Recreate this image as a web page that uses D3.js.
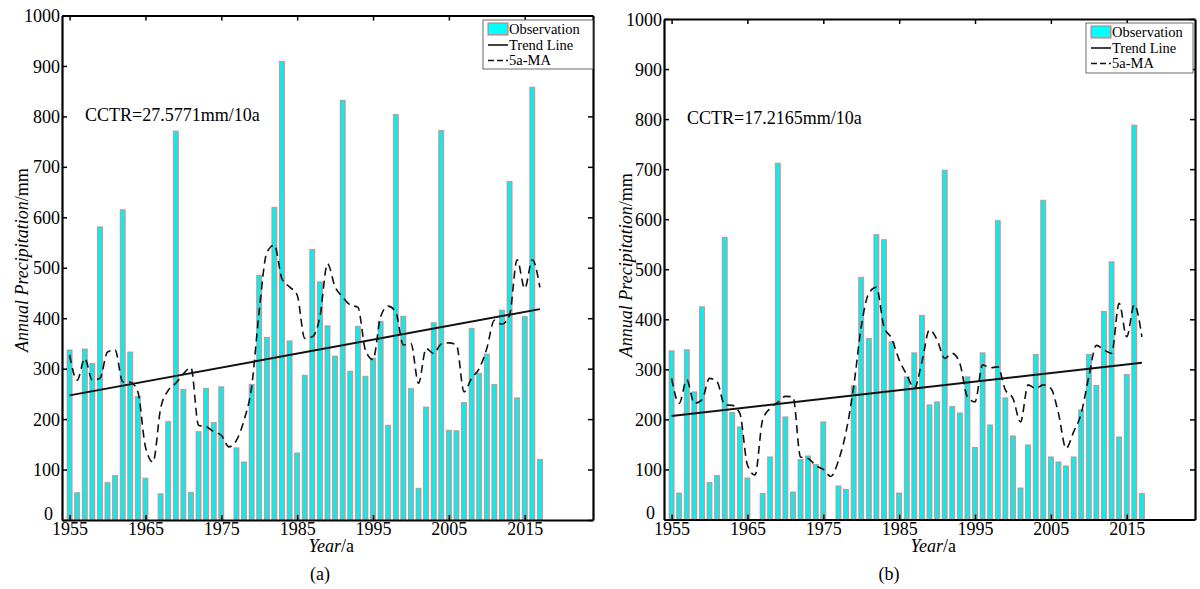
<!DOCTYPE html>
<html>
<head>
<meta charset="utf-8">
<script src="https://cdn.jsdelivr.net/npm/d3@7"></script>
<style>
  body { margin: 0; background: #fff; }
  svg { display: block; }
  svg text { font-family: 'Liberation Serif', 'DejaVu Serif', serif; }
</style>
</head>
<body>
<svg id="chart" width="1200" height="589"></svg>
<script>
const years = d3.range(1955, 2018);
const xTicks = [1955, 1965, 1975, 1985, 1995, 2005, 2015];
const yTicks = [0, 100, 200, 300, 400, 500, 600, 700, 800, 900, 1000];

// panel (a)
const obsA = [
  337, 54, 339, 310, 581, 74, 88, 615, 333, 245,
  83, 0, 52, 195, 771, 259, 55, 175, 261, 193,
  264, 0, 143, 115, 269, 485, 362, 620, 909, 355,
  133, 287, 536, 472, 385, 325, 832, 295, 384, 285,
  321, 394, 188, 804, 404, 261, 63, 224, 391, 772,
  178, 177, 233, 380, 291, 329, 269, 416, 671, 242,
  403, 858, 120,
];
const maA = [
  327, 277, 320, 277, 281, 333, 337, 274, 273, 254,
  145, 115, 221, 257, 271, 290, 302, 188, 185, 175,
  168, 145, 158, 198, 264, 415, 530, 545, 478, 462,
  446, 360, 363, 403, 508, 462, 442, 426, 422, 337,
  318, 403, 424, 412, 347, 350, 271, 340, 330, 349,
  351, 347, 254, 281, 300, 340, 396, 388, 406, 516,
  459, 516, 461,
];
const trendA = [[1955, 247], [2017, 418]];

// panel (b)
const obsB = [
  337, 53, 339, 255, 425, 74, 88, 564, 214, 185,
  83, 0, 52, 125, 712, 205, 55, 120, 127, 110,
  195, 0, 67, 60, 267, 484, 362, 569, 559, 355,
  53, 285, 333, 408, 229, 235, 698, 226, 213, 285,
  144, 333, 189, 597, 243, 167, 63, 149, 330, 638,
  125, 115, 107, 125, 219, 330, 268, 416, 515, 165,
  290, 788, 52,
];
const maB = [
  282, 232, 279, 232, 239, 282, 275, 229, 228, 212,
  109, 89, 199, 222, 234, 246, 245, 125, 122, 108,
  100, 86, 118, 175, 265, 385, 452, 464, 385, 362,
  319, 289, 262, 315, 379, 359, 322, 332, 312, 245,
  235, 309, 303, 305, 259, 242, 195, 269, 262, 269,
  262, 212, 142, 175, 212, 285, 348, 339, 332, 432,
  365, 429, 365,
];
const trendB = [[1955, 207], [2017, 313]];

const legendLabels = ['Observation', 'Trend Line', '5a-MA'];

const FONT = "'Liberation Serif', 'DejaVu Serif', serif";
const svg = d3.select('#chart');

function drawPanel({ box, obs, ma, trend, cctr, tag, yLabelX, yLabelAt, legendBox }) {
  const g = svg.append('g');

  const x = d3.scaleLinear().domain([1954, 2024]).range([box.left, box.right]);
  const y = d3.scaleLinear().domain([0, 1000]).range([box.bottom, box.top]);
  const barW = 5;

  const data = years.map((yr, i) => ({ year: yr, value: obs[i], ma: ma[i] }));

  // bars
  g.append('g')
    .selectAll('rect')
    .data(data.filter((d) => d.value > 0))
    .join('rect')
    .attr('x', (d) => x(d.year) - barW / 2)
    .attr('y', (d) => y(d.value))
    .attr('width', barW)
    .attr('height', (d) => y(0) - y(d.value))
    .attr('fill', '#14e8e8')
    .attr('stroke', '#f07878')
    .attr('stroke-width', 0.8);

  // trend line
  g.append('line')
    .attr('x1', x(trend[0][0]))
    .attr('y1', y(trend[0][1]))
    .attr('x2', x(trend[1][0]))
    .attr('y2', y(trend[1][1]))
    .attr('stroke', '#111')
    .attr('stroke-width', 2);

  // 5-year moving average
  const line = d3
    .line()
    .x((d) => x(d.year))
    .y((d) => y(d.ma))
    .curve(d3.curveMonotoneX);
  g.append('path')
    .datum(data)
    .attr('d', line)
    .attr('fill', 'none')
    .attr('stroke', '#111')
    .attr('stroke-width', 1.6)
    .attr('stroke-dasharray', '8,5');

  // axes
  const bottom = g
    .append('g')
    .attr('transform', `translate(0,${box.bottom})`)
    .call(
      d3.axisBottom(x).tickValues(xTicks).tickFormat(d3.format('d'))
        .tickSizeInner(-5).tickSizeOuter(0).tickPadding(3),
    );
  const top = g
    .append('g')
    .attr('transform', `translate(0,${box.top})`)
    .call(d3.axisTop(x).tickValues(xTicks).tickFormat('').tickSizeInner(-5).tickSizeOuter(0));
  const left = g
    .append('g')
    .attr('transform', `translate(${box.left},0)`)
    .call(
      d3.axisLeft(y).tickValues(yTicks).tickFormat(d3.format('d'))
        .tickSizeInner(-5).tickSizeOuter(0).tickPadding(2),
    );
  const right = g
    .append('g')
    .attr('transform', `translate(${box.right},0)`)
    .call(d3.axisRight(y).tickValues(yTicks).tickFormat('').tickSizeInner(-5).tickSizeOuter(0));

  [bottom, top, left, right].forEach((a) => {
    a.attr('font-family', FONT).attr('font-size', 18);
    a.selectAll('path').attr('stroke', '#000').attr('stroke-width', 2.2);
    a.selectAll('line').attr('stroke', '#000').attr('stroke-width', 1.5);
    a.selectAll('text').attr('fill', '#000');
  });
  bottom.selectAll('text').attr('dy', '0.68em');
  left.selectAll('text').attr('dy', '0.34em');
  // the 0 label sits just up and left of the first year label
  left.selectAll('.tick').filter((d) => d === 0).select('text').attr('y', -7).attr('x', -9);

  // CCTR note
  g.append('text')
    .attr('x', box.left + 23)
    .attr('y', y(805) + 7)
    .attr('font-size', 18)
    .text(cctr);

  // axis titles
  const xt = g
    .append('text')
    .attr('x', x(1989.5))
    .attr('y', box.bottom + 32)
    .attr('text-anchor', 'middle')
    .attr('font-size', 18);
  xt.append('tspan').attr('font-style', 'italic').text('Year');
  xt.append('tspan').text('/a');

  const yt = g
    .append('text')
    .attr('transform', `translate(${yLabelX},${y(yLabelAt)}) rotate(-90)`)
    .attr('text-anchor', 'middle')
    .attr('font-size', 18);
  yt.append('tspan').attr('font-style', 'italic').text('Annual Precipitation');
  yt.append('tspan').text('/mm');

  g.append('text')
    .attr('x', tag.x)
    .attr('y', 580)
    .attr('text-anchor', 'middle')
    .attr('font-size', 18)
    .text(tag.text);

  // legend
  const lg = g.append('g').attr('transform', `translate(${legendBox.x},${legendBox.y})`);
  lg.append('rect')
    .attr('width', legendBox.w)
    .attr('height', legendBox.h)
    .attr('fill', '#fff')
    .attr('stroke', '#444')
    .attr('stroke-width', 0.8);
  lg.append('rect')
    .attr('x', 5)
    .attr('y', 3)
    .attr('width', 20)
    .attr('height', 12)
    .attr('fill', '#00ffff')
    .attr('stroke', '#f06060')
    .attr('stroke-width', 1);
  lg.append('line')
    .attr('x1', 5).attr('x2', 25).attr('y1', 25).attr('y2', 25)
    .attr('stroke', '#111').attr('stroke-width', 1.6);
  lg.append('line')
    .attr('x1', 5).attr('x2', 25).attr('y1', 40.5).attr('y2', 40.5)
    .attr('stroke', '#111').attr('stroke-width', 1.6).attr('stroke-dasharray', '6,3');
  lg.selectAll('text.lab')
    .data(legendLabels)
    .join('text')
    .attr('class', 'lab')
    .attr('x', 26)
    .attr('y', (d, i) => 14 + i * 15.5)
    .attr('font-size', 14.5)
    .text((d) => d);
}

drawPanel({
  box: { left: 62, right: 593, top: 15.5, bottom: 520 },
  obs: obsA,
  ma: maA,
  trend: trendA,
  cctr: 'CCTR=27.5771mm/10a',
  tag: { x: 320, text: '(a)' },
  yLabelX: 28,
  yLabelAt: 515,
  legendBox: { x: 483, y: 20, w: 110, h: 49 },
});

drawPanel({
  box: { left: 664, right: 1195, top: 19, bottom: 519.5 },
  obs: obsB,
  ma: maB,
  trend: trendB,
  cctr: 'CCTR=17.2165mm/10a',
  tag: { x: 889, text: '(b)' },
  yLabelX: 632,
  yLabelAt: 508,
  legendBox: { x: 1086, y: 23, w: 107, h: 50 },
});
</script>
</body>
</html>
